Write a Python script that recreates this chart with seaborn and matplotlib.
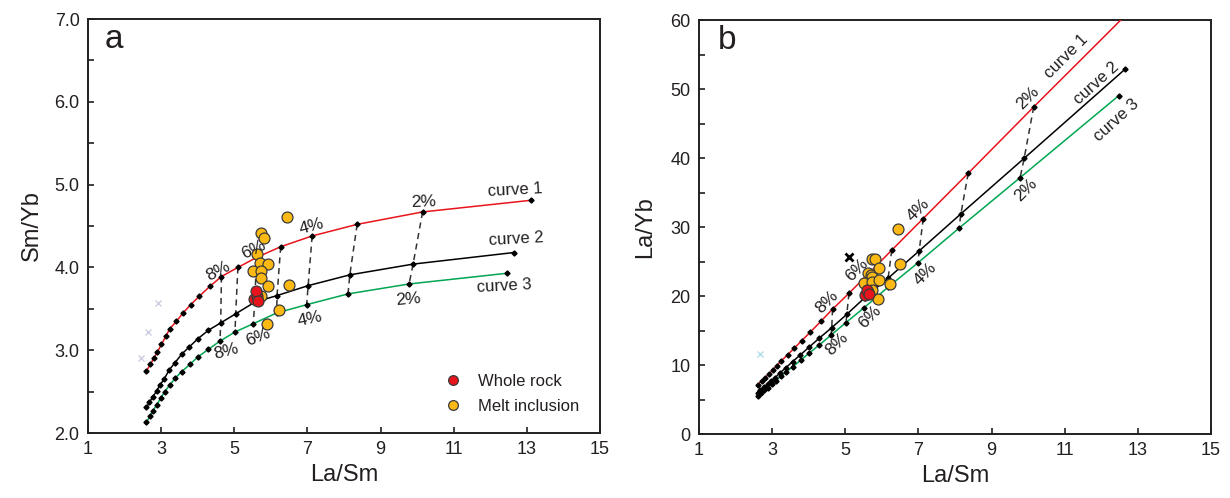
import numpy as np
import pandas as pd
import matplotlib
matplotlib.use("Agg")
import matplotlib.pyplot as plt
from matplotlib.lines import Line2D
from matplotlib.ticker import MultipleLocator, FormatStrFormatter
import seaborn as sns

# ---------------- data ----------------
# melting curves: points at 20%,19%,...,2%,1% melting
c1_lasm = [2.60, 2.71, 2.81, 2.90, 3.01, 3.13, 3.24, 3.42, 3.60, 3.81, 4.04, 4.33,
           4.65, 5.10, 5.61, 6.27, 7.13, 8.36, 10.15, 13.10]
c1_smyb = [2.75, 2.83, 2.91, 2.98, 3.07, 3.17, 3.26, 3.35, 3.45, 3.55, 3.65, 3.77,
           3.89, 4.00, 4.12, 4.25, 4.38, 4.52, 4.67, 4.81]
c1_layb = [7.15, 7.67, 8.18, 8.64, 9.24, 9.92, 10.56, 11.46, 12.42, 13.53, 14.75, 16.32,
           18.09, 20.40, 23.11, 26.65, 31.23, 37.79, 47.40, 63.01]

c2_lasm = [2.60, 2.68, 2.78, 2.88, 2.97, 3.08, 3.22, 3.38, 3.56, 3.77, 4.01, 4.29,
           4.63, 5.04, 5.56, 6.17, 7.02, 8.16, 9.89, 12.65]
c2_smyb = [2.31, 2.37, 2.44, 2.51, 2.58, 2.65, 2.76, 2.85, 2.95, 3.04, 3.14, 3.24,
           3.33, 3.44, 3.58, 3.66, 3.78, 3.91, 4.04, 4.18]
c2_layb = [6.01, 6.35, 6.78, 7.23, 7.66, 8.16, 8.89, 9.63, 10.50, 11.46, 12.59, 13.90,
           15.42, 17.34, 19.90, 22.58, 26.54, 31.91, 39.96, 52.88]

c3_lasm = [2.60, 2.69, 2.78, 2.88, 2.99, 3.10, 3.24, 3.38, 3.56, 3.79, 4.01, 4.29,
           4.61, 5.02, 5.52, 6.16, 6.98, 8.11, 9.78, 12.47]
c3_smyb = [2.13, 2.20, 2.27, 2.34, 2.42, 2.50, 2.58, 2.66, 2.74, 2.83, 2.92, 3.01,
           3.11, 3.22, 3.32, 3.45, 3.55, 3.68, 3.80, 3.93]
c3_layb = [5.54, 5.92, 6.31, 6.74, 7.24, 7.75, 8.36, 8.99, 9.75, 10.73, 11.71, 12.91,
           14.34, 16.16, 18.33, 21.25, 24.78, 29.84, 37.16, 49.01]

# indices of the points joined by dashed tie lines (8% ... 2%)
tie_index = [12, 13, 14, 15, 16, 17, 18]

# samples
mi_lasm = [6.45, 5.73, 5.82, 5.61, 5.70, 5.93, 5.52, 5.72, 5.72, 5.91, 6.50, 6.23, 5.90, 5.74]
mi_smyb = [4.61, 4.42, 4.36, 4.16, 4.05, 4.04, 3.96, 3.96, 3.87, 3.77, 3.79, 3.48, 3.32, 3.65]
mi_layb = [29.7, 25.3, 25.4, 23.3, 23.1, 24.0, 21.9, 22.7, 22.1, 22.3, 24.6, 21.7, 19.6, 20.9]

wr_lasm = [5.55, 5.62, 5.60, 5.65]
wr_smyb = [3.62, 3.66, 3.72, 3.60]
wr_layb = [20.1, 20.6, 20.8, 20.3]

ref_a_lasm = [2.92, 2.65, 2.45]
ref_a_smyb = [3.57, 3.22, 2.91]
ref_b_lasm = [2.67]
ref_b_layb = [11.55]
blk_lasm = [5.10]
blk_layb = [25.7]

# labels
pct_a_upper = [("8%", 4.56, 3.96, 28), ("6%", 5.52, 4.22, 25), ("4%", 7.11, 4.49, 15), ("2%", 10.18, 4.79, 2)]
pct_a_lower = [("8%", 4.79, 2.98, 15), ("6%", 5.65, 3.16, 22), ("4%", 7.08, 3.38, 12), ("2%", 9.75, 3.61, 5)]
curve_a = [("curve 1", 12.67, 4.93, 3), ("curve 2", 12.71, 4.34, 3), ("curve 3", 12.39, 3.77, 3)]
pct_b_upper = [("8%", 4.49, 19.2, 45), ("6%", 5.31, 23.8, 45), ("4%", 6.99, 32.5, 45), ("2%", 10.0, 48.7, 45)]
pct_b_lower = [("8%", 4.76, 13.1, 45), ("6%", 5.67, 17.0, 45), ("4%", 7.20, 23.2, 45), ("2%", 9.93, 35.4, 45)]
curve_b = [("curve 1", 11.05, 54.7, 45), ("curve 2", 11.87, 50.8, 42), ("curve 3", 12.41, 45.5, 42)]

# ---------------- style ----------------
sns.set_theme(style="ticks")
plt.rcParams["font.family"] = ["Liberation Sans", "DejaVu Sans"]
TXT = "#231F20"
RED = "#E8141B"
GRN = "#00A651"
ORG = "#FDB913"
plt.rcParams.update({
    "text.color": TXT, "axes.labelcolor": TXT, "xtick.color": TXT, "ytick.color": TXT,
    "axes.edgecolor": TXT, "axes.linewidth": 1.4,
    "xtick.direction": "in", "ytick.direction": "in",
    "xtick.major.size": 4, "ytick.major.size": 4, "ytick.minor.size": 4,
    "xtick.major.width": 1.2, "ytick.major.width": 1.2, "ytick.minor.width": 1.2,
})

fig = plt.figure(figsize=(12.3, 4.98), dpi=100)
axa = fig.add_axes([0.0715, 0.1305, 0.4163, 0.8313])
axb = fig.add_axes([0.5683, 0.1285, 0.4163, 0.8313])

curve_cols = [RED, "black", GRN]


def draw_panel(ax, xs_list, ys_list, mi_x, mi_y, wr_x, wr_y):
    for xs, ys, col in zip(xs_list, ys_list, curve_cols):
        df = pd.DataFrame({"x": xs, "y": ys})
        sns.lineplot(data=df, x="x", y="y", sort=False, estimator=None, ax=ax,
                     color=col, lw=1.1, zorder=3)
        ax.plot(xs, ys, ls="none", marker="D", ms=2.6, color="black", zorder=4)
    for i in tie_index:
        tx = [xs_list[k][i] for k in range(3)]
        ty = [ys_list[k][i] for k in range(3)]
        ax.plot(tx, ty, ls=(0, (4, 3)), color="#333333", lw=1.1, zorder=2)
    sns.scatterplot(x=mi_x, y=mi_y, ax=ax, color=ORG, edgecolor="#3a3a3a",
                    linewidth=0.9, s=62, zorder=5)
    sns.scatterplot(x=wr_x, y=wr_y, ax=ax, color=RED, edgecolor="#3a3a3a",
                    linewidth=0.9, s=62, zorder=6)


LBL = 12.5

# ---------- panel a ----------
draw_panel(axa, [c1_lasm, c2_lasm, c3_lasm], [c1_smyb, c2_smyb, c3_smyb],
           mi_lasm, mi_smyb, wr_lasm, wr_smyb)
axa.plot(ref_a_lasm, ref_a_smyb, ls="none", marker="x", ms=5, mew=0.9, color="#C9C9DF", zorder=2)
axa.set_xlim(1, 15)
axa.set_ylim(2.0, 7.0)
axa.yaxis.set_major_locator(MultipleLocator(1.0))
axa.yaxis.set_minor_locator(MultipleLocator(0.5))
axa.yaxis.set_major_formatter(FormatStrFormatter("%.1f"))
axa.set_ylabel("Sm/Yb", fontsize=17, labelpad=8)
for t, x, y, r in pct_a_upper + pct_a_lower:
    axa.text(x, y, t, fontsize=LBL, rotation=r, ha="center", va="center", color=TXT, zorder=7)
for t, x, y, r in curve_a:
    axa.text(x, y, t, fontsize=12, rotation=r, ha="center", va="center", color=TXT, zorder=7)
axa.text(0.051, 0.95, "a", transform=axa.transAxes, fontsize=24, ha="center", va="center")
handles = [
    Line2D([], [], ls="none", marker="o", ms=7, mfc=RED, mec="#3a3a3a", mew=0.9, label="Whole rock"),
    Line2D([], [], ls="none", marker="o", ms=7, mfc=ORG, mec="#3a3a3a", mew=0.9, label="Melt inclusion"),
]
axa.legend(handles=handles, loc="center left", bbox_to_anchor=(0.697, 0.094), frameon=False,
           fontsize=12, borderpad=0, borderaxespad=0, handlelength=1.0, handletextpad=1.0,
           labelspacing=0.6)

# ---------- panel b ----------
draw_panel(axb, [c1_lasm, c2_lasm, c3_lasm], [c1_layb, c2_layb, c3_layb],
           mi_lasm, mi_layb, wr_lasm, wr_layb)
axb.plot(ref_b_lasm, ref_b_layb, ls="none", marker="x", ms=5, mew=0.9, color="#A9DCEB", zorder=2)
axb.plot(blk_lasm, blk_layb, ls="none", marker="x", ms=6, mew=2.0, color="black", zorder=6)
axb.set_xlim(1, 15)
axb.set_ylim(0, 60)
axb.yaxis.set_major_locator(MultipleLocator(10))
axb.yaxis.set_minor_locator(MultipleLocator(5))
axb.set_ylabel("La/Yb", fontsize=17, labelpad=10)
for t, x, y, r in pct_b_upper + pct_b_lower:
    axb.text(x, y, t, fontsize=LBL, rotation=r, ha="center", va="center", color=TXT, zorder=7)
for t, x, y, r in curve_b:
    axb.text(x, y, t, fontsize=12, rotation=r, ha="center", va="center", color=TXT, zorder=7)
axb.text(0.055, 0.95, "b", transform=axb.transAxes, fontsize=24, ha="center", va="center")

for ax in (axa, axb):
    ax.set_xticks(np.arange(1, 16, 2))
    ax.set_xlabel("La/Sm", fontsize=17, labelpad=4)
    ax.tick_params(axis="both", which="major", labelsize=13, pad=6)
    for s in ax.spines.values():
        s.set_visible(True)
        s.set_color(TXT)

fig.savefig("out.png", dpi=100)
